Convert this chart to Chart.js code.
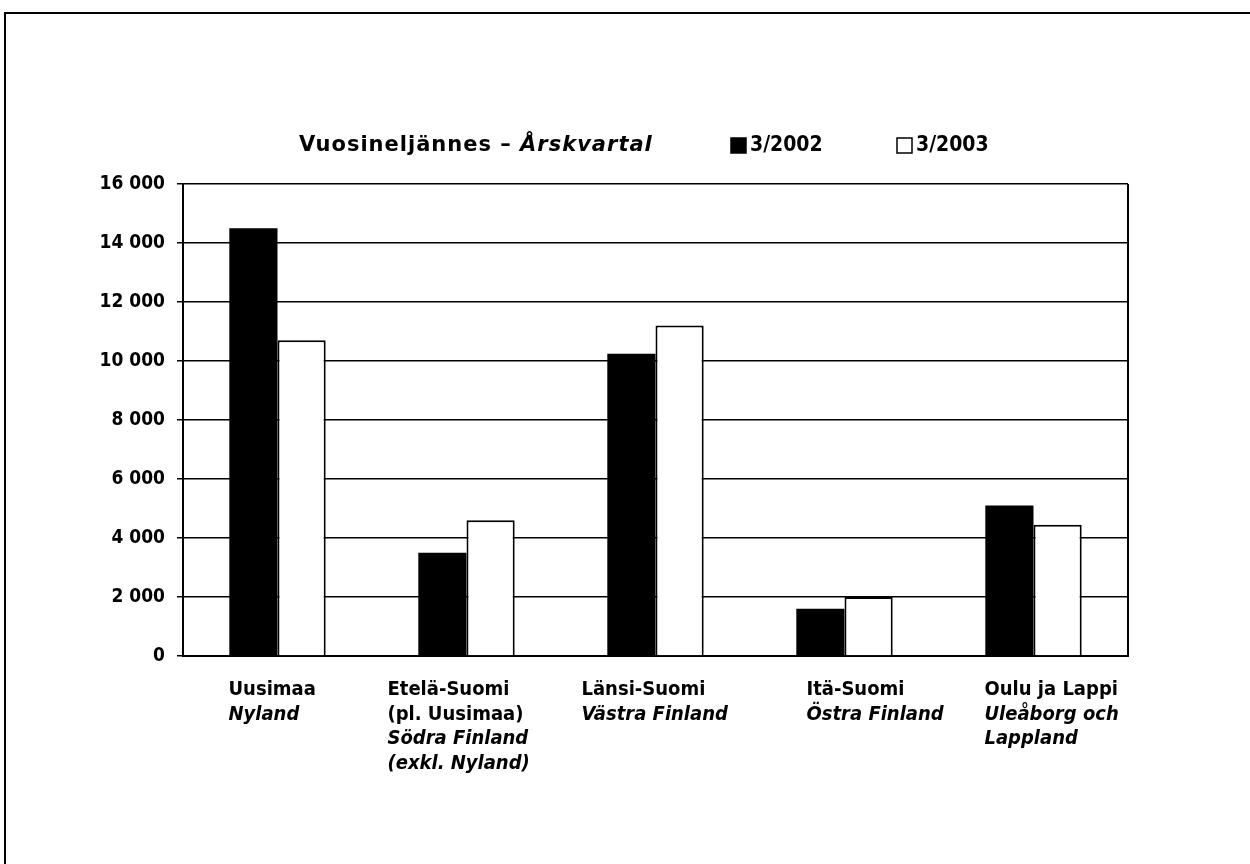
<!DOCTYPE html>
<html lang="fi">
<head>
<meta charset="UTF-8">
<title>Vuosineljännes – Årskvartal</title>
<script src="https://cdn.jsdelivr.net/npm/chart.js@4.4.0/dist/chart.umd.min.js"></script>
<style>
  html, body { margin: 0; padding: 0; background: #fff; }
  .wrap { position: relative; width: 1250px; height: 864px; }
  .frame { position: absolute; left: 4px; top: 12px; right: 0; bottom: 0;
           border-top: 2px solid #000; border-left: 2px solid #000; pointer-events: none; }
</style>
</head>
<body>
<div class="wrap">
  <canvas id="myChart" width="1250" height="864"></canvas>
  <div class="frame"></div>
</div>
<script>
// Alueet: suomeksi (normaali) ja ruotsiksi (kursiivi)
const fiLabels = [['Uusimaa'], ['Etelä-Suomi', '(pl. Uusimaa)'], ['Länsi-Suomi'], ['Itä-Suomi'], ['Oulu ja Lappi']]
const svLabels = [['Nyland'], ['Södra Finland', '(exkl. Nyland)'], ['Västra Finland'], ['Östra Finland'], ['Uleåborg och', 'Lappland']]
const categories = fiLabels.map(l => l.join(' '))

const seriesNames = ['3/2002', '3/2003']
const q2002 = [14500, 3500, 10250, 1600, 5100]
const q2003 = [10700, 4600, 11200, 2000, 4450]

const yTicks = [0, 2000, 4000, 6000, 8000, 10000, 12000, 14000, 16000]
const legendTitle = ['Vuosineljännes – ', 'Årskvartal']

const FONT = '"DejaVu Sans Condensed", "Liberation Sans Narrow", "Arial Narrow", sans-serif'
const WIDE = '"DejaVu Sans", sans-serif'
const labelShift = [-49, -79, -74, -38, -49]   // vasen reuna suhteessa ryhmän keskikohtaan

function fmt(v) {
  return String(v).replace(/\B(?=(\d{3})+(?!\d))/g, ' ')
}

// legend + x-akselin monirivinen teksti + kehys oikealle
const decor = {
  id: 'decor',
  afterDraw(chart) {
    const ctx = chart.ctx
    const area = chart.chartArea
    ctx.save()
    ctx.strokeStyle = '#000'
    ctx.lineWidth = 2
    ctx.beginPath()
    ctx.moveTo(area.right, area.top)
    ctx.lineTo(area.right, area.bottom)
    ctx.stroke()

    // legend
    ctx.fillStyle = '#000'
    ctx.textBaseline = 'middle'
    ctx.textAlign = 'left'
    let x = 299
    const ly = 146
    ctx.letterSpacing = '1px'
    ctx.font = 'bold 21px ' + WIDE
    ctx.fillText(legendTitle[0], x, ly)
    x += ctx.measureText(legendTitle[0]).width
    ctx.font = 'italic bold 21px ' + WIDE
    ctx.fillText(legendTitle[1], x, ly)
    ctx.letterSpacing = '0px'

    const keyX = [731, 897]
    chart.data.datasets.forEach((ds, i) => {
      ctx.fillStyle = ds.backgroundColor
      ctx.fillRect(keyX[i], ly - 8, 15, 15)
      ctx.strokeStyle = '#000'
      ctx.lineWidth = 1.5
      ctx.strokeRect(keyX[i], ly - 8, 15, 15)
      ctx.fillStyle = '#000'
      ctx.font = 'bold 21px ' + FONT
      ctx.fillText(ds.label, keyX[i] + 19, ly)
    })

    // x labels
    const xs = chart.scales.x
    categories.forEach((c, i) => {
      const left = xs.getPixelForValue(i) + labelShift[i]
      let y = 690
      ctx.font = 'bold 20px ' + FONT
      fiLabels[i].forEach(line => { ctx.fillText(line, left, y); y += 24.5 })
      ctx.font = 'italic bold 20px ' + FONT
      svLabels[i].forEach(line => { ctx.fillText(line, left, y); y += 24.5 })
    })
    ctx.restore()
  }
}

const ctx = document.getElementById('myChart').getContext('2d')
const myChart = new Chart(ctx, {
  type: 'bar',
  data: {
    labels: categories,
    datasets: [{
      label: seriesNames[0],
      data: q2002,
      backgroundColor: '#000',
      borderWidth: 0
    }, {
      label: seriesNames[1],
      data: q2003,
      backgroundColor: '#fff',
      borderColor: '#000',
      borderWidth: 2
    }]
  },
  options: {
    responsive: false,
    animation: false,
    categoryPercentage: 0.51,
    barPercentage: 1,
    layout: { padding: { left: 0, top: 184, right: 122, bottom: 208 } },
    plugins: { legend: { display: false }, tooltip: { enabled: false } },
    scales: {
      x: {
        grid: { display: false },
        border: { display: true, color: '#000', width: 2 },
        ticks: { display: false },
        afterFit: s => { s.height = 0 }
      },
      y: {
        min: 0,
        max: 16000,
        afterFit: s => { s.width = 183 },
        afterBuildTicks: s => { s.ticks = yTicks.map(v => ({ value: v })) },
        grid: { color: '#000', lineWidth: 1.5, tickLength: 6, tickColor: '#000' },
        border: { display: true, color: '#000', width: 2 },
        ticks: {
          color: '#000',
          padding: 12,
          font: { family: FONT, size: 19, weight: 'bold' },
          callback: v => fmt(v)
        }
      }
    }
  },
  plugins: [decor]
})
</script>
</body>
</html>
